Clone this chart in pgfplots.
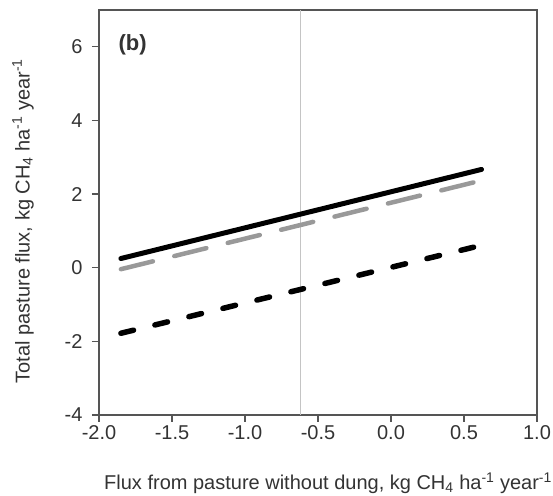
\documentclass[border=0pt]{standalone}
\usepackage{pgfplots}
\pgfplotsset{compat=1.18}
\usepackage{fontspec}
\setmainfont{Liberation Sans}
\definecolor{txt}{HTML}{333333}
\definecolor{axc}{HTML}{555555}
\definecolor{gline}{HTML}{999999}
\definecolor{vline}{HTML}{C4C4C4}
\begin{document}
\begin{tikzpicture}
\begin{axis}[
  name=ax,
  scale only axis, width=438pt, height=405pt,
  xmin=-2, xmax=1, ymin=-4, ymax=7,
  xtick={-2,-1.5,-1,-0.5,0,0.5,1},
  xticklabels={-2.0,-1.5,-1.0,-0.5,0.0,0.5,1.0},
  ytick={-4,-2,0,2,4,6},
  yticklabels={-4,-2,0,2,4,6},
  xtick pos=bottom, ytick pos=left,
  tick align=outside, major tick length=7pt,
  axis line style={axc, line width=1.3pt},
  tick style={axc, line width=1.3pt},
  ticklabel style={font=\fontsize{20}{24}\selectfont, text=txt},
  yticklabel style={xshift=-6pt},
  label style={font=\fontsize{20}{24}\selectfont, text=txt},
  xlabel={Flux from pasture without dung, kg CH\textsubscript{4} ha\textsuperscript{-1} year\textsuperscript{-1}},
  ylabel={Total pasture flux, kg CH\textsubscript{4} ha\textsuperscript{-1} year\textsuperscript{-1}},
  xlabel style={at={(axis description cs:0.523,-0.168)}, anchor=center},
  ylabel style={at={(axis description cs:-0.1735,0.479)}, anchor=center},
  clip=false,
]
\addplot[vline, line width=1.3pt] coordinates {(-0.62,-4) (-0.62,7)};
\addplot[black, line width=5pt, line cap=round] coordinates {(-1.85,0.25) (0.62,2.67)};
\addplot[gline, line width=4.5pt, line cap=round, dash pattern=on 33pt off 22pt] coordinates {(-1.85,-0.04) (0.62,2.37)};
\addplot[black, line width=5.5pt, line cap=round, dash pattern=on 13pt off 22pt] coordinates {(-1.85,-1.78) (0.62,0.61)};
\node[font=\bfseries\fontsize{22}{26}\selectfont, text=txt] at (axis cs:-1.77,6.05) {(b)};
\end{axis}
\pgfresetboundingbox
\path ([xshift=-99pt,yshift=-81pt]ax.south west) rectangle ([xshift=16pt,yshift=10pt]ax.north east);
\end{tikzpicture}
\end{document}
